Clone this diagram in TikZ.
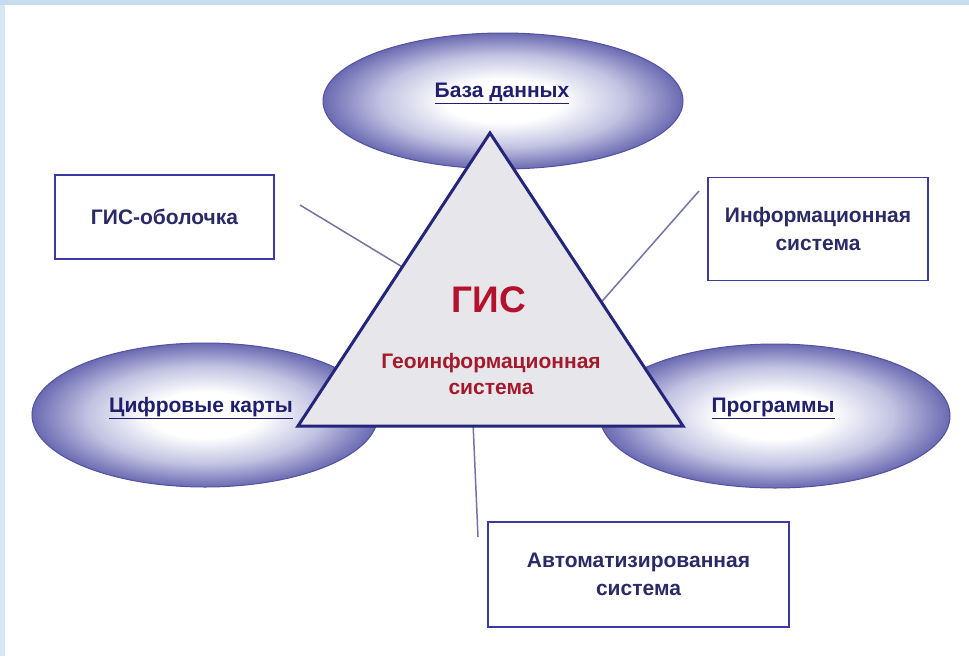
\documentclass[tikz,border=0pt]{standalone}
\usepackage{fontspec}
\setmainfont{Liberation Sans}
\usetikzlibrary{shapes.geometric,calc}
\definecolor{frametop}{HTML}{C8DCF0}
\definecolor{frameleft}{HTML}{D9E6F4}
\definecolor{ellblue}{HTML}{6A6AB2}
\definecolor{ellmid}{HTML}{C2C2E2}
\definecolor{elledge}{HTML}{5252A0}
\definecolor{navy}{HTML}{1F1F6E}
\definecolor{boxtext}{HTML}{2A2A66}
\definecolor{boxline}{HTML}{3A3AA0}
\definecolor{triline}{HTML}{25257C}
\definecolor{trifill}{HTML}{E7E7EB}
\definecolor{gisred}{HTML}{B5102C}
\definecolor{geored}{HTML}{A31A2C}
\definecolor{linkgray}{HTML}{7474A4}
\pgfdeclareradialshading{ellshade}{\pgfpointorigin}{color(0bp)=(white); color(8bp)=(white); color(17bp)=(ellmid); color(25bp)=(ellblue); color(50bp)=(ellblue)}
\begin{document}
\begin{tikzpicture}[x=1pt,y=-1pt,
  ellnode/.style={ellipse, draw=elledge, line width=1pt, shading=ellshade, inner sep=0pt},
  elllabel/.style={text=navy, font=\fontsize{21}{24}\selectfont\bfseries},
  boxnode/.style={draw=boxline, line width=1.5pt, fill=white, inner sep=0pt, align=center, text=boxtext, font=\fontsize{21}{28}\selectfont\bfseries},
  link/.style={draw=linkgray, line width=1.5pt}]
\useasboundingbox (0,0) rectangle (969,656);
\fill[white] (0,0) rectangle (969,656);
\fill[frameleft] (0,0) rectangle (5,656);
\fill[frametop] (0,0) rectangle (969,5);

% ellipses
\node[ellnode, minimum width=360pt, minimum height=136pt] (db) at (503,101) {};
\node[elllabel] (dbt) at (502,93) {\underline{База данных}};
\node[ellnode, minimum width=346pt, minimum height=144pt] (maps) at (205,415) {};
\node[elllabel] (mapst) at (201,408) {\underline{Цифровые карты}};
\node[ellnode, minimum width=350pt, minimum height=144pt] (prog) at (775,416) {};
\node[elllabel] (progt) at (773,408) {\underline{Программы}};

% triangle corners
\coordinate (apex) at (490,133);
\coordinate (bl) at (298,426);
\coordinate (br) at (683,426);
\coordinate (tl) at ($(apex)!0.457!(bl)$);
\coordinate (tr) at ($(apex)!0.577!(br)$);
\coordinate (tb) at ($(bl)!0.455!(br)$);

% boxes
\node[boxnode, minimum width=219pt, minimum height=84pt] (shell) at (164.5,217) {ГИС-оболочка};
\node[boxnode, minimum width=220pt, minimum height=103pt] (info) at (818,229) {Информационная\\система};
\node[boxnode, minimum width=301pt, minimum height=105pt] (auto) at (638.5,574.5) {Автоматизированная\\система};

% connector free ends
\coordinate (shellend) at (300,205);
\coordinate (infoend) at (699,191);
\coordinate (autoend) at (478,537);
\draw[link] (shellend) -- (tl);
\draw[link] (infoend) -- (tr);
\draw[link] (tb) -- (autoend);

% triangle
\draw[draw=triline, line width=3pt, fill=trifill, line join=miter] (apex) -- (bl) -- (br) -- cycle;
\node[text=gisred, font=\fontsize{37}{40}\selectfont\bfseries] (gis) at (489,300) {ГИС};
\node[text=geored, align=center, font=\fontsize{21}{26}\selectfont\bfseries] (geo) at (491,374) {Геоинформационная\\система};
\end{tikzpicture}
\end{document}
